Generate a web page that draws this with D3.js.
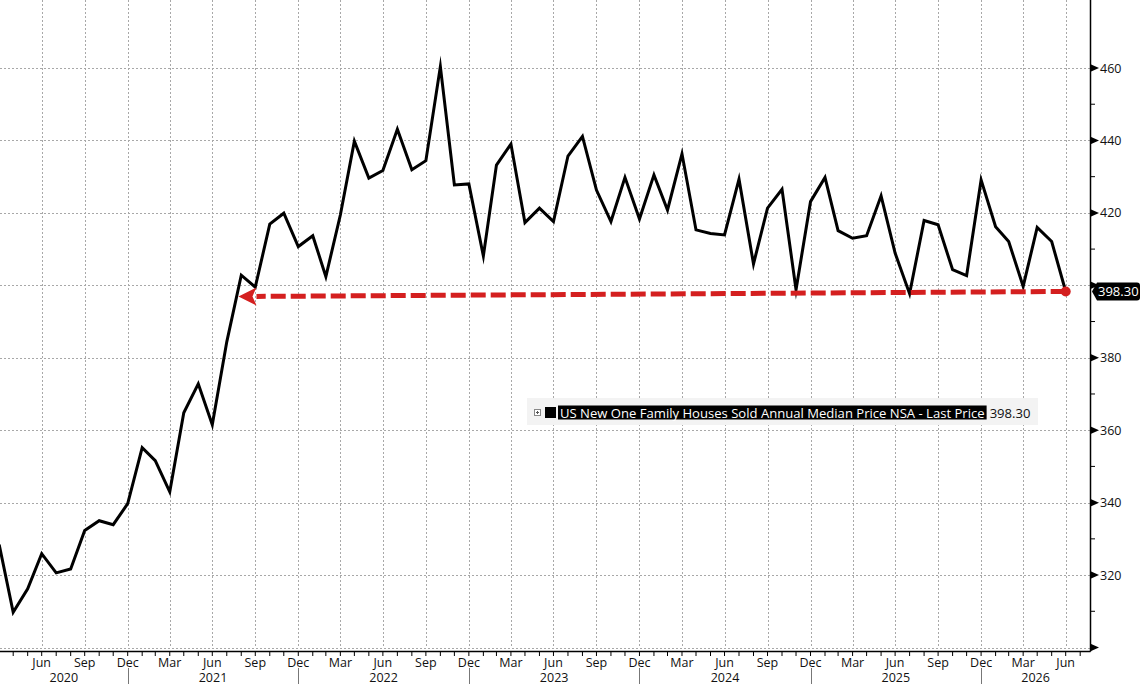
<!DOCTYPE html>
<html>
<head>
<meta charset="utf-8">
<script src="https://cdn.jsdelivr.net/npm/d3@7"></script>
<style>
html,body{margin:0;padding:0;background:#fff;}
svg{display:block;}
text{font-family:"Open Sans","DejaVu Sans",sans-serif;}
</style>
</head>
<body>
<svg id="chart" width="1140" height="684"></svg>
<script>
// ---- data ----
const seriesName = "US New One Family Houses Sold Annual Median Price NSA - Last Price";
const startMonth = "2020-03"; // first observation (month-end dated)
const values = [
  328.4, 309.7, 316.2, 325.9, 320.6, 321.7, 332.3, 335.0, 333.9, 339.7,
  355.2, 351.6, 343.0, 364.8, 372.8, 361.5, 384.4, 402.8, 399.5, 416.9,
  419.9, 410.7, 413.7, 402.4, 419.4, 439.8, 429.6, 431.7, 443.1, 431.9,
  434.4, 460.4, 427.7, 428.0, 408.1, 433.2, 439.0, 417.3, 421.3, 417.6,
  435.7, 441.1, 426.3, 417.6, 429.8, 418.3, 430.5, 420.8, 436.3, 415.3,
  414.3, 413.9, 429.3, 405.9, 421.3, 426.5, 398.8, 423.1, 429.8, 415.1,
  413.0, 413.7, 424.7, 408.9, 397.7, 417.9, 416.7, 404.3, 402.7, 429.1,
  416.2, 412.1, 399.7, 416.0, 412.1, 398.3
];
const lastPrice = 398.30;
const monthNames = ["Jan","Feb","Mar","Apr","May","Jun","Jul","Aug","Sep","Oct","Nov","Dec"];
const labeledMonths = ["Mar","Jun","Sep","Dec"];
const yMajorTicks = [300, 320, 340, 360, 380, 400, 420, 440, 460];
const yMinorTicks = [310, 330, 350, 370, 390, 410, 430, 450];
const yLabelTicks = [320, 340, 360, 380, 400, 420, 440, 460];
const years = [2020, 2021, 2022, 2023, 2024, 2025, 2026];
const arrowEnd = {date: "2021-08-25", value: 396.9};

// ---- helpers ----
const [sy, sm] = startMonth.split("-").map(Number);
const monthEnd = i => d3.utcDay.offset(new Date(Date.UTC(sy, sm - 1 + i + 1, 1)), -1);
const data = values.map((v, i) => ({date: monthEnd(i), value: v}));

const W = 1140, H = 684;
const plotL = 0, plotR = 1090, plotT = 0, plotB = 651;

const x = d3.scaleUtc()
  .domain([new Date(Date.UTC(2020, 5, 30)), new Date(Date.UTC(2026, 5, 30))])
  .range([41.7, 1065.7]);
const y = d3.scaleLinear().domain([300, 460]).range([647.5, 68]);

const svg = d3.select("#chart");

svg.append("defs").append("clipPath").attr("id", "plotclip")
  .append("rect").attr("x", plotL).attr("y", plotT).attr("width", plotR - plotL).attr("height", plotB - plotT);

const allTicks = [];
for (let i = 0; i < 80; i++) {
  const d = monthEnd(i);
  if (x(d) > plotR) break;
  allTicks.push(d);
}
const quarterTicks = allTicks.filter(d => labeledMonths.includes(monthNames[d.getUTCMonth()]));

// ---- grid ----
const grid = svg.append("g").attr("clip-path", "url(#plotclip)");
grid.selectAll("line.hg").data(yMajorTicks).join("line")
  .attr("x1", plotL).attr("x2", plotR)
  .attr("y1", d => Math.round(y(d)) + 0.5).attr("y2", d => Math.round(y(d)) + 0.5)
  .attr("stroke", "#a8a8a8").attr("stroke-width", 1).attr("stroke-dasharray", "2,2");
grid.selectAll("line.vg").data(quarterTicks).join("line")
  .attr("x1", d => Math.round(x(d)) + 0.5).attr("x2", d => Math.round(x(d)) + 0.5)
  .attr("y1", plotT).attr("y2", y(300))
  .attr("stroke", "#a8a8a8").attr("stroke-width", 1).attr("stroke-dasharray", "2,2");

// ---- legend box (drawn beneath the series) ----
const leg = svg.append("g");
leg.append("rect").attr("x", 527).attr("y", 398).attr("width", 511).attr("height", 27)
  .attr("fill", "#f3f3f3");
leg.append("rect").attr("x", 534.5).attr("y", 409.5).attr("width", 6).attr("height", 6)
  .attr("fill", "#fff").attr("stroke", "#888").attr("stroke-width", 1);
leg.append("line").attr("x1", 536).attr("x2", 539).attr("y1", 412.5).attr("y2", 412.5).attr("stroke", "#555");
leg.append("line").attr("x1", 537.5).attr("x2", 537.5).attr("y1", 411).attr("y2", 414).attr("stroke", "#555");
leg.append("rect").attr("x", 545).attr("y", 407).attr("width", 11).attr("height", 11).attr("fill", "#000");
const hl = leg.append("rect").attr("y", 405.5).attr("height", 14).attr("fill", "#000");
const legText = leg.append("text").attr("x", 560).attr("y", 412.5)
  .attr("dominant-baseline", "central").attr("fill", "#fff")
  .style("font-size", "12.5px").text(seriesName);
let tw = legText.node().getComputedTextLength();
const targetW = 425;
legText.style("font-size", (12.5 * targetW / tw).toFixed(2) + "px");
tw = legText.node().getComputedTextLength();
hl.attr("x", 558).attr("width", tw + 4);
leg.append("text").attr("x", 558 + tw + 7).attr("y", 412.5)
  .attr("dominant-baseline", "central").attr("fill", "#111")
  .style("font-size", legText.style("font-size")).text(lastPrice.toFixed(2));

// ---- series line ----
const line = d3.line().x(d => x(d.date)).y(d => y(d.value));
svg.append("g").attr("clip-path", "url(#plotclip)")
  .append("path").datum(data).attr("d", line)
  .attr("fill", "none").attr("stroke", "#000").attr("stroke-width", 3)
  .attr("stroke-linejoin", "miter").attr("stroke-miterlimit", 10);

// ---- red dashed arrow annotation ----
const last = data[data.length - 1];
const ax0 = x(last.date), ay0 = y(last.value);
const ax1 = x(new Date(arrowEnd.date + "T00:00:00Z")), ay1 = y(arrowEnd.value);
const ang = Math.atan2(ay1 - ay0, ax1 - ax0);
const headLen = 18, headHalf = 9;
const bx = ax1 - headLen * Math.cos(ang), by = ay1 - headLen * Math.sin(ang);
const red = "#d41f1f";
svg.append("line").attr("x1", ax0).attr("y1", ay0).attr("x2", bx).attr("y2", by)
  .attr("stroke", red).attr("stroke-width", 5).attr("stroke-dasharray", "15,5");
const px = -Math.sin(ang), py = Math.cos(ang);
svg.append("path")
  .attr("d", `M${ax1},${ay1}L${bx + px * headHalf},${by + py * headHalf}L${bx + 4 * Math.cos(ang)},${by + 4 * Math.sin(ang)}L${bx - px * headHalf},${by - py * headHalf}Z`)
  .attr("fill", red);
svg.append("circle").attr("cx", ax0).attr("cy", ay0).attr("r", 5).attr("fill", red);

// ---- axes ----
const axis = svg.append("g");
axis.append("line").attr("x1", plotL).attr("x2", plotR + 0.5).attr("y1", plotB + 0.5).attr("y2", plotB + 0.5)
  .attr("stroke", "#000").attr("stroke-width", 1.5);
axis.append("line").attr("x1", plotR + 0.5).attr("x2", plotR + 0.5).attr("y1", plotT).attr("y2", plotB + 0.5)
  .attr("stroke", "#000").attr("stroke-width", 1.5);

axis.selectAll("path.ya").data(yMajorTicks).join("path")
  .attr("d", d => `M${plotR},${y(d) - 4}L${plotR + 9},${y(d)}L${plotR},${y(d) + 4}Z`)
  .attr("fill", "#000");
axis.selectAll("line.ym").data(yMinorTicks).join("line")
  .attr("x1", plotR).attr("x2", plotR + 5).attr("y1", d => y(d)).attr("y2", d => y(d))
  .attr("stroke", "#000").attr("stroke-width", 1);

const ty = y(lastPrice);
// labels hidden behind the last-price tag are not drawn (as in the reference)
axis.selectAll("text.yl").data(yLabelTicks.filter(d => Math.abs(y(d) - ty) > 14)).join("text")
  .attr("x", plotR + 10).attr("y", d => y(d)).attr("dominant-baseline", "central")
  .attr("fill", "#111").style("font-size", "12.5px").text(d => d);

axis.selectAll("line.xt").data(allTicks).join("line")
  .attr("x1", d => x(d)).attr("x2", d => x(d)).attr("y1", plotB).attr("y2", plotB + 5)
  .attr("stroke", "#000").attr("stroke-width", 1);
axis.selectAll("text.xl").data(quarterTicks.filter(d => x(d) > 10)).join("text")
  .attr("x", d => x(d)).attr("y", 662).attr("text-anchor", "middle").attr("dominant-baseline", "central")
  .attr("fill", "#111").style("font-size", "12.5px").text(d => monthNames[d.getUTCMonth()]);

const decEnds = allTicks.filter(d => d.getUTCMonth() === 11);
axis.selectAll("line.ys").data(decEnds).join("line")
  .attr("x1", d => Math.round(x(d)) + 0.5).attr("x2", d => Math.round(x(d)) + 0.5)
  .attr("y1", 668).attr("y2", H)
  .attr("stroke", "#777").attr("stroke-width", 1);
axis.selectAll("text.yr").data(years).join("text")
  .attr("x", yr => {
    const a = Math.max(plotL, x(new Date(Date.UTC(yr - 1, 11, 31))));
    const b = Math.min(plotR, x(new Date(Date.UTC(yr, 11, 31))));
    return (a + b) / 2;
  })
  .attr("y", 677).attr("text-anchor", "middle").attr("dominant-baseline", "central")
  .attr("fill", "#111").style("font-size", "12.5px").text(d => d);

// last price tag
svg.append("path")
  .attr("d", `M${plotR + 2},${ty}L${plotR + 7},${ty - 9}L${W - 3},${ty - 9}Q${W},${ty - 9} ${W},${ty - 6}L${W},${ty + 6}Q${W},${ty + 9} ${W - 3},${ty + 9}L${plotR + 7},${ty + 9}Z`)
  .attr("fill", "#000");
svg.append("text").attr("x", plotR + 8).attr("y", ty).attr("dominant-baseline", "central")
  .attr("fill", "#fff").style("font-size", "13px").text(lastPrice.toFixed(2));
</script>
</body>
</html>
